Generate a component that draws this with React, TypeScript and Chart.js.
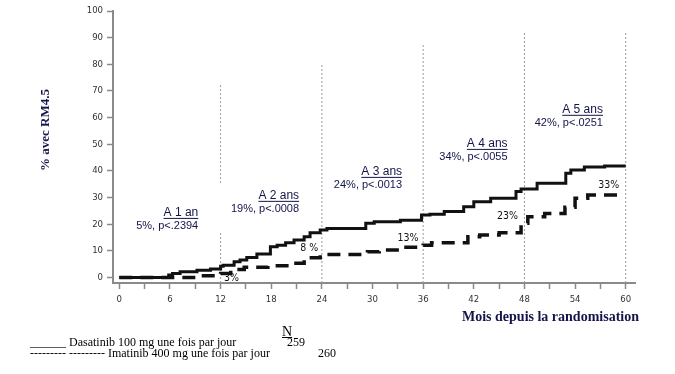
import React, { useEffect, useRef } from "react";
import { Chart, registerables } from "chart.js";

Chart.register(...registerables);

// ---- Data ----
const dasatinibMonths = [0, 5.85, 6.3, 7.2, 9.2, 10.8, 12, 12.3, 13.6, 14.3, 15.1, 16.3, 17.9, 18.7, 19.7, 20.7, 21.9, 22.6, 23.8, 24.6, 29.2, 30.2, 33.3, 35.8, 36.8, 38.5, 40.8, 42, 44, 47, 47.6, 49.5, 52.9, 53.5, 55.1, 57.5, 60];
const dasatinibPct = [0, 0.9, 1.5, 2.1, 2.7, 3.2, 4.2, 4.6, 5.9, 6.5, 7.5, 8.8, 11.5, 12.1, 13, 14, 15.3, 16.8, 17.8, 18.4, 20.3, 20.9, 21.5, 23.4, 23.7, 24.7, 26.5, 28.4, 29.7, 32.2, 33.2, 35.3, 39.1, 40.3, 41.4, 41.8, 41.8];

const imatinibMonths = [0, 9.2, 12, 13.2, 14.8, 17.6, 20.2, 21.9, 23.8, 29.4, 30.8, 33.6, 36, 37, 41.3, 42.7, 45, 47.6, 48.4, 50.4, 52.8, 54, 55.5, 59];
const imatinibPct = [0, 0.6, 1.5, 3, 3.8, 4.4, 5.3, 7.4, 8.6, 9.6, 10.3, 11.3, 12.1, 13, 15.3, 15.9, 16.8, 20.3, 22.8, 24, 26.3, 29.7, 30.9, 30.9];

const refMonths = [12, 24, 36, 48, 60];
const refTops = [73, 80.4, 87.3, 91.8, 91.8];
const line12Gap = [16.6, 35.4];

const yearTitles = ["A 1 an", "A 2 ans", "A 3 ans", "A 4 ans", "A 5 ans"];
const yearStats = ["5%, p<.2394", "19%, p<.0008", "24%, p<.0013", "34%, p<.0055", "42%, p<.0251"];
const yearLabelMonths = [9.35, 21.3, 33.5, 46, 57.3];
const yearLabelPct = [24.4, 30.8, 39.8, 50.3, 63.1];

const pctLabels = ["3%", "8 %", "13%", "23%", "33%"];
const pctLabelMonths = [13.3, 22.5, 34.2, 46, 58];
const pctLabelValues = [-0.2, 11, 14.8, 23, 34.7];

const xTicks = [0, 3, 6, 9, 12, 15, 18, 21, 24, 27, 30, 33, 36, 39, 42, 45, 48, 51, 54, 57, 60];
const yTicks = [0, 10, 20, 30, 40, 50, 60, 70, 80, 90, 100];
const X_MIN = -0.75, X_MAX = 61.1, Y_MIN = -2.1, Y_MAX = 100;

const NARROW = '"Liberation Sans Narrow", "DejaVu Sans Condensed", "Liberation Sans", Arial, sans-serif';
const SANS = '"Liberation Sans", Arial, sans-serif';
const SERIF = '"Liberation Serif", "Times New Roman", serif';

const annotPlugin = {
  id: "annot",
  afterDatasetsDraw(chart: any) {
    const { ctx } = chart;
    const x = chart.scales.x, y = chart.scales.y;
    ctx.save();
    ctx.fillStyle = "#14144a";
    ctx.textAlign = "right";
    ctx.textBaseline = "alphabetic";
    yearTitles.forEach((t, i) => {
      const px = x.getPixelForValue(yearLabelMonths[i]);
      const py = y.getPixelForValue(yearLabelPct[i]);
      ctx.font = `12px ${SANS}`;
      ctx.fillText(t, px, py + 4);
      const w = ctx.measureText(t).width;
      ctx.fillRect(px - w, py + 5.5, w, 1);
      ctx.font = `11px ${SANS}`;
      ctx.fillText(yearStats[i], px, py + 17);
    });
    ctx.fillStyle = "#111";
    ctx.textAlign = "center";
    ctx.textBaseline = "middle";
    ctx.font = `10.5px ${NARROW}`;
    pctLabels.forEach((t, i) => {
      ctx.fillText(t, x.getPixelForValue(pctLabelMonths[i]), y.getPixelForValue(pctLabelValues[i]));
    });
    ctx.restore();
  },
};

export default function App() {
  const ref = useRef<HTMLCanvasElement>(null);
  useEffect(() => {
    if (!ref.current) return;
    const refDatasets = refMonths.map((m, i) => {
      const pts: any[] =
        m === 12
          ? [{ x: m, y: Y_MIN }, { x: m, y: line12Gap[0] }, { x: m, y: null }, { x: m, y: line12Gap[1] }, { x: m, y: refTops[i] }]
          : [{ x: m, y: Y_MIN }, { x: m, y: refTops[i] }];
      return {
        data: pts,
        borderColor: "#9a9a9a",
        borderWidth: 1,
        borderDash: [2, 2],
        pointRadius: 0,
        stepped: false,
        spanGaps: false,
      };
    });
    const chart = new Chart(ref.current, {
      type: "line",
      data: {
        datasets: [
          {
            data: dasatinibMonths.map((m, i) => ({ x: m, y: dasatinibPct[i] })),
            borderColor: "#111",
            borderWidth: 3,
            pointRadius: 0,
            stepped: true,
          },
          {
            data: imatinibMonths.map((m, i) => ({ x: m, y: imatinibPct[i] })),
            borderColor: "#111",
            borderWidth: 3.5,
            borderDash: [13, 8],
            pointRadius: 0,
            stepped: true,
          },
          ...refDatasets,
        ] as any,
      },
      options: {
        animation: false,
        responsive: false,
        layout: { padding: { top: 11, right: 40, left: 0, bottom: 0 } },
        plugins: { legend: { display: false }, tooltip: { enabled: false } },
        scales: {
          x: {
            type: "linear",
            min: X_MIN,
            max: X_MAX,
            afterFit: (s: any) => { s.height = 91; },
            afterBuildTicks: (s: any) => { s.ticks = xTicks.map((v) => ({ value: v })); },
            border: { display: true, color: "#8a8a8a", width: 2 },
            grid: { display: true, drawOnChartArea: false, drawTicks: true, tickLength: 6, color: "#8a8a8a", tickWidth: 1.5 },
            ticks: {
              autoSkip: false,
              maxRotation: 0,
              padding: 5,
              color: "#333",
              font: { family: NARROW, size: 9.5 },
              callback: (v: any) => (v % 6 === 0 ? String(v) : ""),
            },
          },
          y: {
            type: "linear",
            min: Y_MIN,
            max: Y_MAX,
            afterFit: (s: any) => { s.width = 113; },
            afterBuildTicks: (s: any) => { s.ticks = yTicks.map((v) => ({ value: v })); },
            border: { display: true, color: "#8a8a8a", width: 2 },
            grid: { display: true, drawOnChartArea: false, drawTicks: true, tickLength: 6, color: "#8a8a8a", tickWidth: 1.5 },
            ticks: {
              padding: 4,
              color: "#333",
              font: { family: NARROW, size: 9.5 },
              callback: (v: any) => String(v),
            },
          },
        },
      },
      plugins: [annotPlugin],
    });
    return () => chart.destroy();
  }, []);

  const legendRow: React.CSSProperties = { position: "absolute", fontFamily: SERIF, fontSize: 12, lineHeight: "12px", whiteSpace: "nowrap", color: "#000" };

  return (
    <div style={{ position: "fixed", left: 0, top: 0, width: 675, height: 374, background: "#fff", overflow: "hidden" }}>
      <canvas ref={ref} width={675} height={374} style={{ display: "block", width: 675, height: 374 }} />
      <div
        style={{
          position: "absolute",
          left: 45,
          top: 130,
          transform: "translate(-50%, -50%) rotate(-90deg)",
          fontFamily: SERIF,
          fontWeight: "bold",
          fontSize: 13,
          whiteSpace: "nowrap",
          color: "#14144a",
        }}
      >
        % avec RM4.5
      </div>
      <div
        style={{
          position: "absolute",
          right: 36,
          top: 308,
          fontFamily: SERIF,
          fontWeight: "bold",
          fontSize: 14,
          lineHeight: "18px",
          whiteSpace: "nowrap",
          color: "#14144a",
        }}
      >
        Mois depuis la randomisation
      </div>
      <div style={{ ...legendRow, left: 282, top: 325, fontSize: 14, lineHeight: "14px", textDecoration: "underline" }}>N</div>
      <div style={{ ...legendRow, left: 30, top: 336 }}>______ Dasatinib 100 mg une fois par jour</div>
      <div style={{ ...legendRow, left: 287, top: 336 }}>259</div>
      <div style={{ ...legendRow, left: 30, top: 347 }}>--------- --------- Imatinib 400 mg une fois par jour</div>
      <div style={{ ...legendRow, left: 318, top: 347 }}>260</div>
    </div>
  );
}
